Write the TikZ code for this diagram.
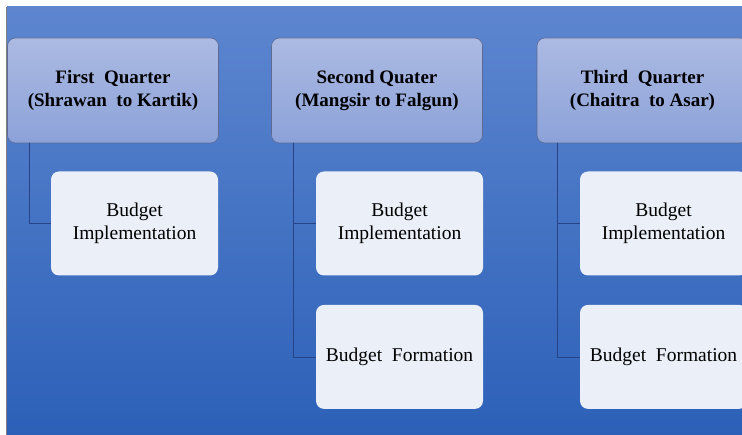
\documentclass[tikz,border=0pt]{standalone}
\usepackage{fontspec}
\setmainfont{Liberation Serif}
\usetikzlibrary{positioning}

% ---------- Kolory ----------
\definecolor{bgtop}{RGB}{93,134,207}
\definecolor{bgbottom}{RGB}{44,96,184}
\definecolor{qtop}{RGB}{172,186,227}
\definecolor{qbottom}{RGB}{140,162,216}
\definecolor{qborder}{RGB}{92,106,150}
\definecolor{taskfill}{RGB}{234,239,248}
\definecolor{linkcol}{RGB}{38,68,135}

\tikzset{
  quarter/.style={draw=qborder, line width=0.6pt, rounded corners=8pt,
    top color=qtop, bottom color=qbottom, minimum width=211pt,
    minimum height=105pt, inner sep=0pt, align=center,
    font=\bfseries\fontsize{19}{23}\selectfont},
  task/.style={fill=taskfill, rounded corners=8pt, minimum width=167pt,
    minimum height=104pt, inner sep=0pt, align=center,
    font=\fontsize{19.5}{23}\selectfont},
  link/.style={draw=linkcol, line width=0.7pt}
}

\begin{document}
\begin{tikzpicture}[x=1pt, y=-1pt]

% ---------- Tlo ----------
\useasboundingbox (0,0) rectangle (742,435);
\clip (0,0) rectangle (742,435);
\fill[white] (0,0) rectangle (742,435);
\fill[top color=bgtop, bottom color=bgbottom] (7,7) rectangle (742,435);
\draw[gray, line width=1pt] (6.5,7) -- (6.5,435);

% ---------- Kwartaly ----------
\node[quarter] (h1) at (113,90.5) {First~ Quarter\\(Shrawan~ to Kartik)};
\node[quarter] (h2) at (377,90.5) {Second Quater\\(Mangsir to Falgun)};
\node[quarter] (h3) at (642.5,90.5) {Third~ Quarter\\(Chaitra~ to Asar)};

% ---------- Zadania ----------
\node[task] (c1) at (134.5,223.5) {Budget\\Implementation};
\node[task] (c2) at (399.5,223.5) {Budget\\Implementation};
\node[task, below=29pt of c2] (f2) {Budget~ Formation};
\node[task] (c3) at (663.5,223.5) {Budget\\Implementation};
\node[task, below=29pt of c3] (f3) {Budget~ Formation};

% ---------- Polaczenia ----------
\coordinate (t1) at ([xshift=22pt]h1.south west);
\coordinate (t2) at ([xshift=22pt]h2.south west);
\coordinate (t3) at ([xshift=21pt]h3.south west);
\draw[link] (t1) |- (c1.west);
\draw[link] (t2) |- (c2.west);
\draw[link] (t2) |- (f2.west);
\draw[link] (t3) |- (c3.west);
\draw[link] (t3) |- (f3.west);

\end{tikzpicture}
\end{document}
